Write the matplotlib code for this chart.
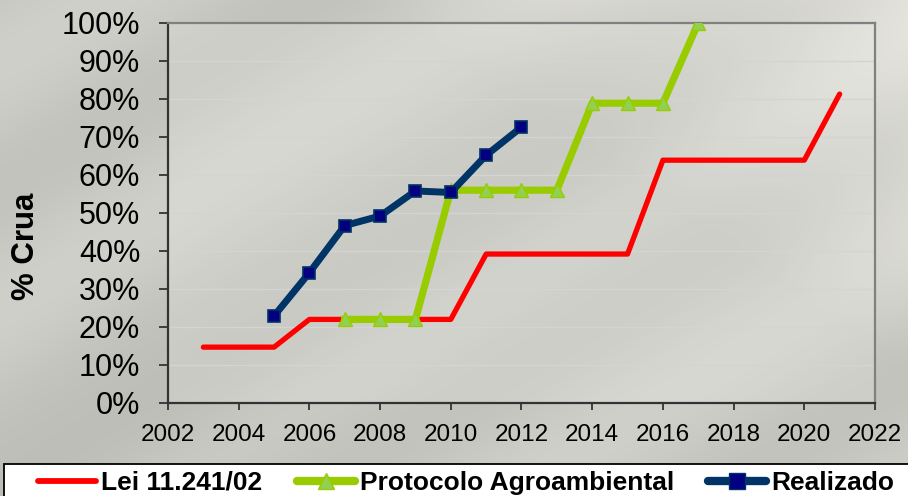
import numpy as np
import matplotlib
matplotlib.use("Agg")
import matplotlib.pyplot as plt
from matplotlib.lines import Line2D
from matplotlib.patches import Rectangle

plt.rcParams["font.family"] = ["Liberation Sans", "DejaVu Sans"]

lei_years = [2003, 2005, 2006, 2010, 2011, 2015, 2016, 2020, 2021]
lei_vals = [14.7, 14.7, 22.0, 22.0, 39.2, 39.2, 63.9, 63.9, 81.3]

prot_years = [2007, 2008, 2009, 2010, 2011, 2012, 2013, 2014, 2015, 2016, 2017]
prot_vals = [22.0, 22.0, 22.0, 56.0, 56.0, 56.0, 56.0, 78.9, 78.9, 78.9, 100.0]

real_years = [2005, 2006, 2007, 2008, 2009, 2010, 2011, 2012]
real_vals = [22.9, 34.3, 46.7, 49.2, 55.8, 55.4, 65.2, 72.6]

yticks = list(range(0, 101, 10))
xticks = list(range(2002, 2023, 2))
labels = ["Lei 11.241/02", "Protocolo Agroambiental", "Realizado"]

W, H = 908, 496
fig = plt.figure(figsize=(W / 100, H / 100), dpi=100)
fig.patch.set_facecolor("#c9cbc4")

# decorative photo-like background (diagonal streaks)
bg = fig.add_axes([0, 0, 1, 1], zorder=-10)
yy, xx = np.mgrid[0:1:248j, 0:1:454j]
u = xx - (1 - yy) * 0.9          # diagonal coordinate
base = 0.79 + 0.025 * np.sin(u * 14.0)
light = np.clip((xx - 0.45) * 1.4 - yy * 1.1 + 0.05, 0, 1) * 0.14
dark = -0.05 * np.exp(-((u - 0.05) / 0.12) ** 2)
img = np.clip(base + light + dark, 0, 1)
rgb = np.dstack([img * 1.0, img * 1.0, img * 0.97])
bg.imshow(rgb, aspect="auto", extent=[0, 1, 0, 1], origin="upper")
bg.axis("off")

ax = fig.add_axes([168 / W, (H - 403) / H, (875 - 168) / W, (403 - 23) / H])
ax.set_facecolor((0.93, 0.94, 0.91, 0.25))

ax.plot(lei_years, lei_vals, color="#ff0000", lw=3.8, solid_capstyle="round",
        solid_joinstyle="round", zorder=3)
ax.plot(prot_years, prot_vals, color="#99cc00", lw=5.2, marker="^", markersize=10,
        markerfacecolor="#92d050", markeredgecolor="#99cc00", zorder=4)
ax.plot(real_years, real_vals, color="#003366", lw=5.0, marker="s", markersize=9,
        markerfacecolor="#000080", markeredgecolor="#003366", markeredgewidth=1.2, zorder=5)

ax.set_xlim(2002, 2022)
ax.set_ylim(0, 100)
ax.set_xticks(xticks)
ax.set_yticks(yticks)
ax.set_yticklabels([f"{v}%" for v in yticks], fontsize=22)
ax.set_xticklabels([str(v) for v in xticks], fontsize=17.5)
ax.tick_params(axis="y", direction="out", length=6.5, width=1.3, color="#333333", pad=13.5)
ax.tick_params(axis="x", direction="out", length=5, width=1.3, color="#333333", pad=10)
ax.grid(axis="y", color="#d4d4d4", lw=1)
ax.set_axisbelow(True)
for s in ["left", "bottom"]:
    ax.spines[s].set_color("#333333")
    ax.spines[s].set_linewidth(1.6)
for s in ["top", "right"]:
    ax.spines[s].set_color("#808080")
    ax.spines[s].set_linewidth(1.6)

fig.text(26 / W, (H - 246) / H, "% Crua", rotation=90, fontsize=22.5, fontweight="bold",
         ha="center", va="center")

# legend frame
fig.patches.append(Rectangle((4 / W, -0.05), (W + 10) / W, (H - 464) / H + 0.05,
                             transform=fig.transFigure, facecolor="white",
                             edgecolor="black", lw=1.3, zorder=1))

handles = [
    Line2D([], [], color="#ff0000", lw=4.2, solid_capstyle="round"),
    Line2D([], [], color="#99cc00", lw=6, marker="^", markersize=12,
           markerfacecolor="#92d050", markeredgecolor="#99cc00", solid_capstyle="round"),
    Line2D([], [], color="#003366", lw=6, marker="s", markersize=11,
           markerfacecolor="#000080", markeredgecolor="#003366", solid_capstyle="round"),
]
leg = fig.legend(handles, labels, loc="center left", bbox_to_anchor=(38 / W, (H - 483) / H),
                 ncol=3, frameon=False, prop={"weight": "bold", "size": 19},
                 handlelength=2.2, handletextpad=0.19, borderpad=0, borderaxespad=0,
                 columnspacing=1.3)
leg.set_zorder(5)

fig.savefig("out.png", dpi=100, facecolor=fig.get_facecolor())
